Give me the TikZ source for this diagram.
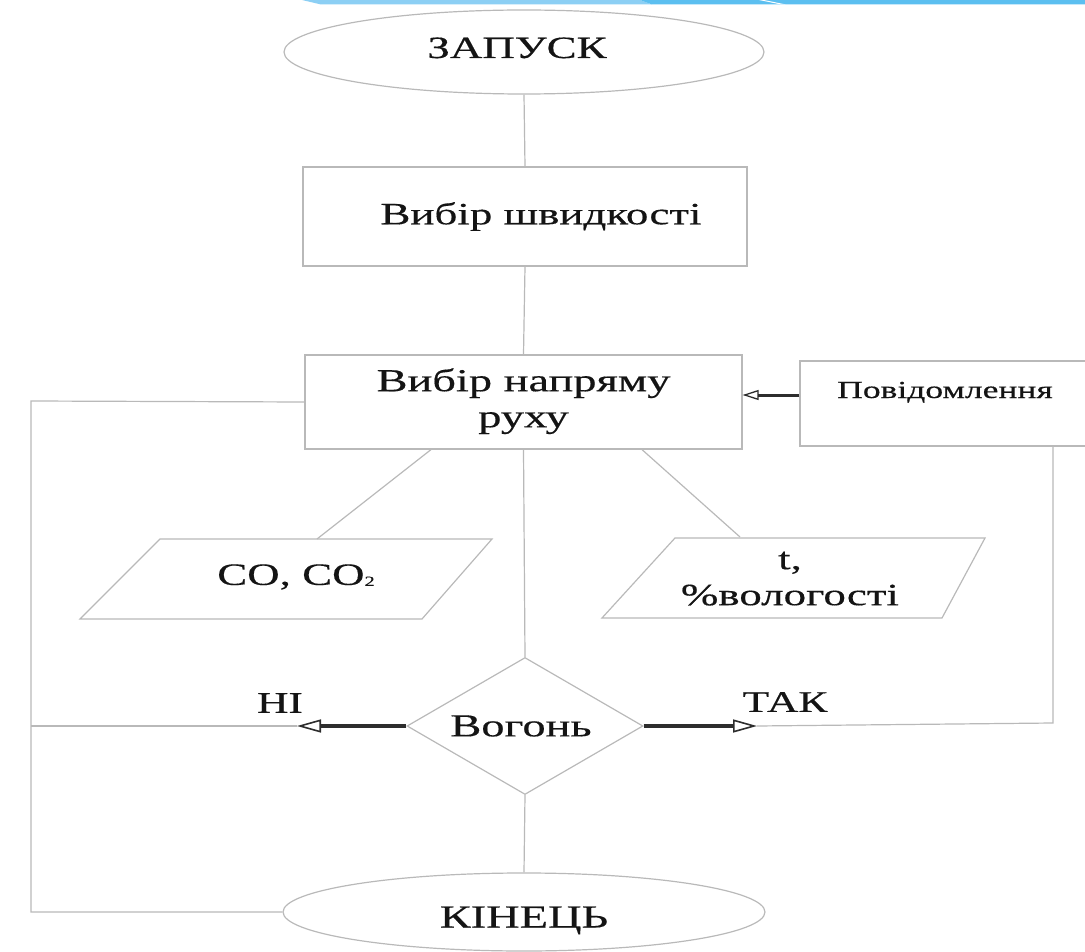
\documentclass[tikz,border=0pt]{standalone}
\usepackage{fontspec}
\setmainfont{Liberation Serif}[FakeBold=0.35]
\usepackage{graphicx}
\usetikzlibrary{shapes.geometric,arrows.meta}
\definecolor{ln}{RGB}{185,185,185}
\definecolor{ar}{RGB}{45,45,45}
\definecolor{tx}{RGB}{20,20,20}
\definecolor{bla}{RGB}{140,207,244}
\definecolor{blb}{RGB}{92,191,240}
\newcommand{\sx}[1]{\scalebox{1.45}[1]{#1}}
\begin{document}
\begin{tikzpicture}[x=1pt,y=-1pt,
  shp/.style={draw=ln, line width=1.2pt, text=tx, inner sep=0pt, font=\fontsize{31}{36}\selectfont},
  boxn/.style={shp, rectangle},
  ell/.style={shp, ellipse},
  dia/.style={shp, diamond, aspect=1.72},
  txt/.style={text=tx, inner sep=0pt, font=\fontsize{31}{36}\selectfont},
  wire/.style={draw=ln, line width=1.2pt},
  arr/.style={draw=ar, line width=3.2pt, -{Triangle[open, length=24pt, width=13pt, line width=1.6pt]}},
  arrs/.style={draw=ar, line width=3pt, -{Triangle[open, length=16pt, width=10pt, line width=1.3pt]}},
]
\useasboundingbox (0,0) rectangle (1085,952);
\clip (0,0) rectangle (1085,952);
% top band
\fill[bla] (302,0) -- (640,0) -- (652,4.5) -- (321,4.5) -- cycle;
\fill[blb] (640,0) -- (1085,0) -- (1085,4.5) -- (652,4.5) -- cycle;
\fill[white] (759,0) -- (764,0) -- (786,4.5) -- (781,4.5) -- cycle;

% nodes
\node[ell, minimum width=480pt, minimum height=84pt, text height=21pt, text depth=9pt] (start) at (524,52) {\sx{ЗАПУСК}\hspace*{14pt}};
\node[boxn, minimum width=444pt, minimum height=99pt] (b1) at (525,216.5) {\hspace*{32pt}\sx{Вибір швидкості}};
\node[boxn, minimum width=437pt, minimum height=94pt, font=\fontsize{32}{36}\selectfont] (b2) at (523.5,402) {\sx{\begin{tabular}{@{}c@{}}Вибір напряму\\руху\end{tabular}}};
\node[boxn, minimum width=290pt, minimum height=85pt, font=\fontsize{24.5}{28}\selectfont, text height=12pt, text depth=23pt] (msg) at (945,403.5) {\sx{Повідомлення}};
\node[dia, minimum width=236pt, minimum height=137pt, font=\fontsize{32}{36}\selectfont] (dia) at (525,726) {\sx{Вогонь}\hspace*{8pt}};
\node[ell, minimum width=482pt, minimum height=78pt, font=\fontsize{32}{36}\selectfont, text height=35pt, text depth=4pt] (end) at (524,912) {\sx{КІНЕЦЬ}};

% parallelograms
\draw[wire] (160,539) -- (492,539) -- (422,619) -- (80,619) -- cycle;
\node[txt] (co) at (296,577) {\sx{CO, CO\raisebox{-1pt}{\fontsize{14}{14}\selectfont 2}}};
\draw[wire] (675,538) -- (985,538) -- (942,618) -- (602,618) -- cycle;
\node[txt] (tv) at (790,580) {\sx{\begin{tabular}{@{}c@{}}t,\\\%вологості\end{tabular}}};

% labels
\node[txt, font=\fontsize{30}{34}\selectfont] (ni) at (280,703) {\sx{НІ}};
\node[txt, font=\fontsize{30}{34}\selectfont] (tak) at (785,702) {\sx{ТАК}};

% coordinates
\coordinate (p1t) at (317,539);
\coordinate (p2t) at (740,537);
\coordinate (nitip) at (297,726);
\coordinate (taktip) at (757,726);
\coordinate (lt) at (31,401);
\coordinate (lj) at (31,726);
\coordinate (lb) at (31,912);
\coordinate (rc) at (1053,723);
\coordinate (ma) at ([yshift=8.5pt]msg.west);

% connectors
\draw[wire] (start.south) -- (b1.north);
\draw[wire] (b1.south) -- (b2.north);
\draw[wire] (b2.south) -- (dia.north);
\draw[wire] ([xshift=-92.5pt]b2.south) -- (p1t);
\draw[wire] ([xshift=118.5pt]b2.south) -- (p2t);
\draw[wire] (dia.south) -- (end.north);
\draw[wire] (b2.west) -- (lt) -- (lb) -- (end.west);
\draw[wire] (lj) -- (nitip);
\draw[wire] (taktip) -- (rc) -- (rc |- msg.south);
\draw[arr] (dia.west) -- (nitip);
\draw[arr] (dia.east) -- (taktip);
\draw[arrs] (ma) -- (ma -| b2.east);
\end{tikzpicture}
\end{document}
